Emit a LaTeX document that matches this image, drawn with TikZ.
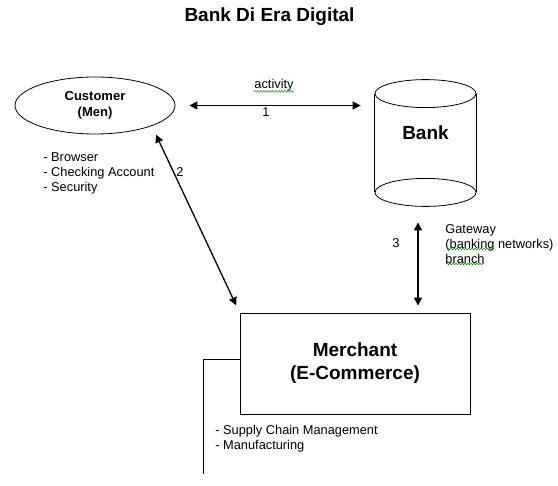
\documentclass[tikz,border=0pt]{standalone}
\usepackage{fontspec}
\setmainfont{Liberation Sans}
\usetikzlibrary{arrows.meta,shapes.geometric,decorations.pathmorphing}

\begin{document}
\begin{tikzpicture}[x=1pt, y=-1pt, line width=0.8pt,
	small/.style={font=\fontsize{12.8}{15}\selectfont, inner sep=0pt},
	big/.style={font=\fontsize{19}{23}\selectfont\bfseries, align=center},
	link/.style={{Triangle[length=8pt,width=8pt]}-{Triangle[length=8pt,width=8pt]}, line width=1.3pt},
	squiggle/.style={color=green!50!black, line width=0.5pt, decorate, decoration={snake, amplitude=0.8pt, segment length=3pt}}]
	\useasboundingbox (0,0) rectangle (558,486);
	\node[big] (title) at (269.5,17) {Bank Di Era Digital};
	\node[draw, ellipse, minimum width=160pt, minimum height=57pt, inner sep=0pt, align=center, font=\fontsize{13}{16}\selectfont\bfseries] (cust) at (95,105.5) {Customer\\(Men)};
	\node[minimum width=101pt, minimum height=126pt, label={[big, yshift=10pt]center:Bank}] (bank) at (425.5,143) {};
	\draw ([yshift=-14pt]bank.north) ellipse [x radius=50.5pt, y radius=14pt];
	\draw ([yshift=14pt]bank.south) ellipse [x radius=50.5pt, y radius=14pt];
	\draw ([yshift=-14pt]bank.north west) -- ([yshift=14pt]bank.south west);
	\draw ([yshift=-14pt]bank.north east) -- ([yshift=14pt]bank.south east);
	\node[draw, big, minimum width=230pt, minimum height=101pt] (merch) at (355,363.5) {Merchant\\(E-Commerce)};
	\coordinate (tail) at (203,474);

	\draw[link, shorten <=14pt, shorten >=14pt] (cust.east) -- (cust.east -| bank.west);
	\node[small] (act) at (274,85) {activity};
	\node[small] (one) at (266,112) {1};
	\draw[link, shorten <=8pt, shorten >=9.6pt] (merch.north west) -- (cust.south east);
	\node[small] (two) at (180,172) {2};
	\draw[link, shorten <=16pt, shorten >=7pt] ([xshift=-7.5pt]bank.south) -- ([xshift=-7.5pt]bank.south |- merch.north);
	\node[small] (three) at (396,243) {3};
	\draw ([yshift=4.5pt]merch.west) -| (tail);

	\node[small, align=left, anchor=north west] (gate) at (445,224) {Gateway\\(banking networks)\\branch};
	\node[small, align=left, anchor=north west] (cfeat) at (43,152) {- Browser\\- Checking Account\\- Security};
	\node[small, align=left, anchor=north west] (mfeat) at (215,425) {- Supply Chain Management\\- Manufacturing};

	\draw[squiggle] (act.south west) -- (act.south east);
	\draw[squiggle] (447,249) -- (494,249);
	\draw[squiggle] (446,264) -- (484,264);
\end{tikzpicture}
\end{document}
